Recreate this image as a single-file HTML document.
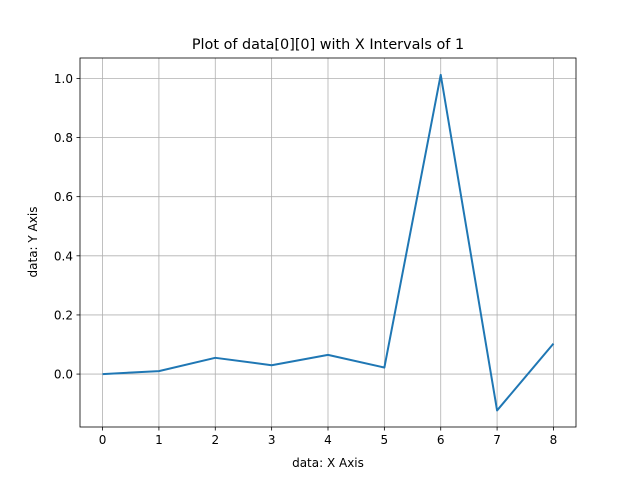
<!DOCTYPE html>
<html><head><meta charset="utf-8"><style>
html,body{margin:0;padding:0;background:#fff;}
svg text{font-family:"DejaVu Sans","Liberation Sans",sans-serif;fill:#000;}
</style></head><body>
<svg id="chart" width="640" height="480" xmlns="http://www.w3.org/2000/svg">
<rect width="640" height="480" fill="#fff"/>
<g id="grid"></g>
<polyline id="line" fill="none" stroke="#1f77b4" stroke-width="2" stroke-linejoin="round"/>
<rect x="80" y="58" width="496" height="369" fill="none" stroke="#000" stroke-width="0.8"/>
<g id="ticks"></g>
<text x="328" y="49" font-size="14.4" text-anchor="middle">Plot of data[0][0] with X Intervals of 1</text>
<text x="328" y="467" font-size="12" text-anchor="middle">data: X Axis</text>
<text x="37" y="242" font-size="12" text-anchor="middle" transform="rotate(-90 37 242)">data: Y Axis</text>
</svg>
<script>
const xValues = [0,1,2,3,4,5,6,7,8];
const yValues = [0.0,0.01,0.055,0.03,0.065,0.022,1.012,-0.123,0.103];
const xTicks = [0,1,2,3,4,5,6,7,8];
const yTicks = [0.0,0.2,0.4,0.6,0.8,1.0];
const yTickLabels = ["0.0","0.2","0.4","0.6","0.8","1.0"];
const xMin=-0.4,xMax=8.4,yMin=-0.179,yMax=1.069;
const L=80,R=576,T=58,B=427;
const sx=v=>L+(v-xMin)/(xMax-xMin)*(R-L);
const sy=v=>B-(v-yMin)/(yMax-yMin)*(B-T);
const NS="http://www.w3.org/2000/svg";
const grid=document.getElementById('grid'),ticks=document.getElementById('ticks');
function mk(tag,attrs,parent){const e=document.createElementNS(NS,tag);for(const k in attrs)e.setAttribute(k,attrs[k]);parent.appendChild(e);return e;}
xTicks.forEach((t,i)=>{
  const x=sx(t);
  const g=mk('line',{x1:x,x2:x,y1:T,y2:B,stroke:'#b0b0b0','stroke-width':0.8},grid);
  
  
  const tk=mk('line',{x1:x,x2:x,y1:B,y2:B+3.5,stroke:'#000','stroke-width':0.8},ticks);
  
  
  const tx=mk('text',{x:x,y:B+17,'font-size':12,'text-anchor':'middle'},ticks);
  
  
  tx.textContent=String(t);
});
yTicks.forEach((t,i)=>{
  const y=sy(t);
  const g=mk('line',{x1:L,x2:R,y1:y,y2:y,stroke:'#b0b0b0','stroke-width':0.8},grid);
  
  
  const tk=mk('line',{x1:L-3.5,x2:L,y1:y,y2:y,stroke:'#000','stroke-width':0.8},ticks);
  
  
  const tx=mk('text',{x:L-7,y:y+4.5,'font-size':12,'text-anchor':'end'},ticks);
  
  
  tx.textContent=yTickLabels[i];
});
document.getElementById('line').setAttribute('points',xValues.map((v,i)=>sx(v)+','+sy(yValues[i])).join(' '));
</script>
</body></html>
